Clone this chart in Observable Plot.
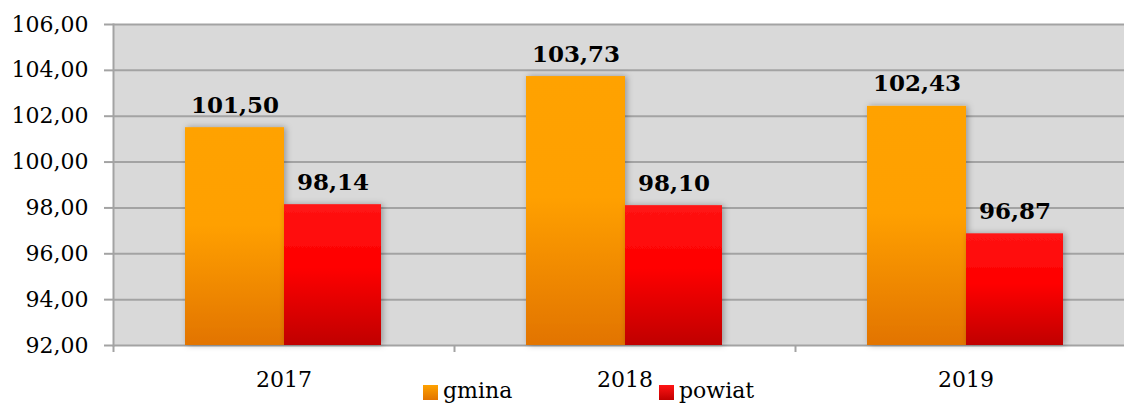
<!DOCTYPE html>
<html><head><meta charset="utf-8">
<script src="https://cdn.jsdelivr.net/npm/d3@7"></script>
<script src="https://cdn.jsdelivr.net/npm/@observablehq/plot@0.6"></script>
<style>
body{margin:0;background:#fff;font-family:"DejaVu Serif",serif;}
#wrap{width:1124px;height:403px;overflow:hidden;position:relative;}
#wrap svg{max-width:none !important;}
#legend{position:absolute;left:0;top:380px;width:1124px;font-size:22px;line-height:22px;color:#000;}
.item{position:absolute;top:0;display:flex;align-items:flex-start;white-space:nowrap;}
.sw{width:15px;height:15px;margin-top:5px;margin-right:5px;}
</style></head><body><div id="wrap"></div>
<script>
const years = ["2017", "2018", "2019"];
const seriesNames = ["gmina", "powiat"];
const gmina = [101.50, 103.73, 102.43];
const powiat = [98.14, 98.10, 96.87];
const yTicks = [92, 94, 96, 98, 100, 102, 104, 106];

const rows = years.map((year, i) => ({year, gmina: gmina[i], powiat: powiat[i]}));
const fmt = v => v.toFixed(2).replace(".", ",");
const yMin = d3.min(yTicks), yMax = d3.max(yTicks);
const grid = "#a3a3a3";
const font = "DejaVu Serif";

const defs = () => {
  const g = document.createElementNS("http://www.w3.org/2000/svg", "g");
  g.innerHTML = `<defs>
    <linearGradient id="gG" x1="0" y1="0" x2="0" y2="1">
      <stop offset="0" stop-color="#ffa200"/><stop offset="0.45" stop-color="#ffa000"/><stop offset="1" stop-color="#e27400"/>
    </linearGradient>
    <linearGradient id="gP" x1="0" y1="0" x2="0" y2="1">
      <stop offset="0" stop-color="#ff1414"/><stop offset="0.45" stop-color="#ff0000"/><stop offset="1" stop-color="#c00000"/>
    </linearGradient>
    <filter id="sh" x="-20%" y="-20%" width="140%" height="140%">
      <feDropShadow dx="2" dy="0" stdDeviation="3" flood-color="#000" flood-opacity="0.3"/>
    </filter></defs>`;
  return g;
};

const chart = Plot.plot({
  width: 1136,
  height: 395,
  marginLeft: 113,
  marginRight: 0,
  marginTop: 24,
  marginBottom: 50,
  style: {fontFamily: font, fontSize: "22px", background: "transparent", overflow: "visible", maxWidth: "none"},
  x: {domain: years, padding: 0, label: null},
  y: {domain: [yMin, yMax], label: null},
  marks: [
    defs,
    Plot.frame({fill: "#d9d9d9", stroke: "none"}),
    Plot.gridY(yTicks, {stroke: grid, strokeOpacity: 1, strokeWidth: 2}),
    Plot.frame({anchor: "left", stroke: grid, strokeWidth: 2}),
    Plot.axisY({ticks: yTicks, tickFormat: fmt, tickSize: 9, tickPadding: 16, fontSize: 22, stroke: grid, strokeWidth: 2, fill: "#000", label: null}),
    Plot.axisX({tickSize: 7, tickFormat: () => "", dx: -170.5, stroke: grid, strokeWidth: 2, label: null}),
    Plot.axisX({tickSize: 0, tickPadding: 26, fontSize: 22, fill: "#000", label: null}),
    Plot.barY(rows, {x: "year", y1: yMin, y2: "gmina", fill: "url(#gG)", insetLeft: 72, insetRight: 170}),
    Plot.barY(rows, {x: "year", y1: yMin, y2: "powiat", fill: "url(#gP)", insetLeft: 171, insetRight: 73}),
    Plot.text(rows, {x: "year", y: "gmina", text: d => fmt(d.gmina), dx: -49, dy: -15, lineAnchor: "bottom", fontWeight: "bold", fontSize: 23, fill: "#000"}),
    Plot.text(rows, {x: "year", y: "powiat", text: d => fmt(d.powiat), dx: 49, dy: -15, lineAnchor: "bottom", fontWeight: "bold", fontSize: 23, fill: "#000"})
  ]
});
chart.querySelectorAll('g[aria-label="bar"]').forEach(g => g.setAttribute("filter", "url(#sh)"));

const wrap = document.getElementById("wrap");
wrap.appendChild(chart);

const legend = document.createElement("div");
legend.id = "legend";
const swatches = {gmina: "linear-gradient(#ffa200, #e27400)", powiat: "linear-gradient(#ff1414, #c00000)"};
const lefts = [423, 659];
seriesNames.forEach((name, i) => {
  const item = document.createElement("div");
  item.className = "item";
  item.style.left = lefts[i] + "px";
  item.innerHTML = `<span class="sw" style="background:${swatches[name]}"></span><span>${name}</span>`;
  legend.appendChild(item);
});
wrap.appendChild(legend);
</script></body></html>
